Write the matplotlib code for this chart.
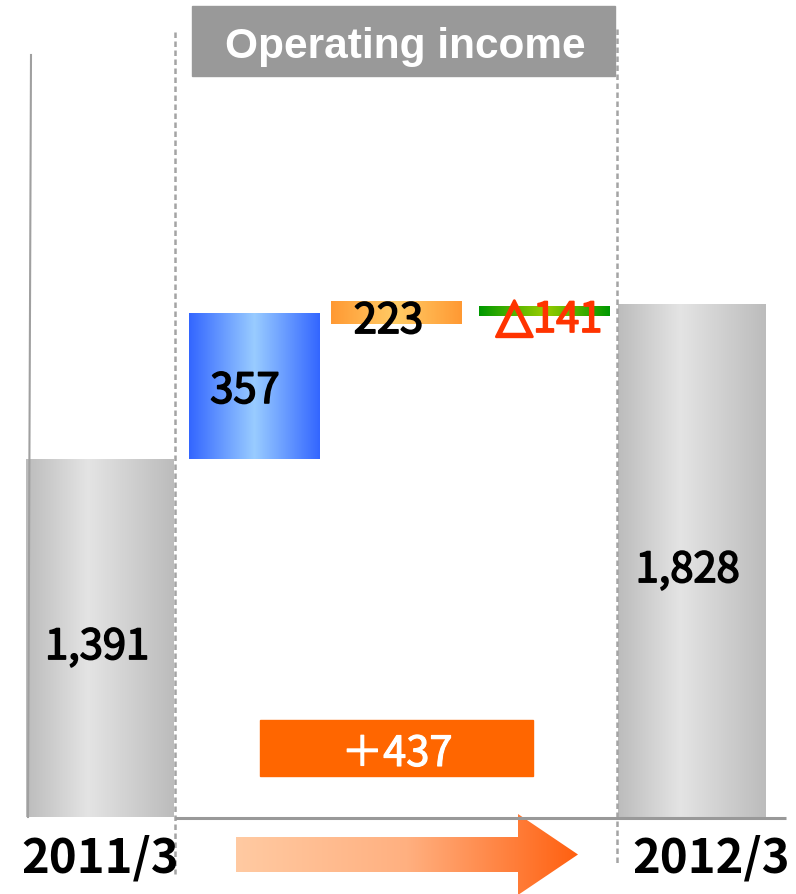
import numpy as np
import matplotlib.pyplot as plt
import matplotlib.patheffects as pe
from matplotlib.patches import Rectangle, Polygon
from matplotlib.colors import LinearSegmentedColormap

# 営業利益 (億円)
periods = ["2011/3", "2012/3"]
start_value = 1391
end_value = 1828
change_labels = ["357", "223", "141"]
total_change = "＋437"
# 中間バーの描画範囲 (図から読み取り, 値単位)
seg_low = [1391, 1772, 1794]
seg_high = [1800, 1836, 1820]

W, H = 796, 895
fig = plt.figure(figsize=(W / 100, H / 100), dpi=100)

# 基準線 (y=818px) より上をデータ軸にする
base_px = 818
scale = 0.35469            # px / 億円
y0 = 381.7                  # 基準線の値
ax = fig.add_axes([0, (H - base_px) / H, 1, base_px / H])
ax.axis("off")


def grad_fill(patch, c_edge, c_mid, mid=0.45):
    x0, y_b = patch.get_x(), patch.get_y()
    w, h = patch.get_width(), patch.get_height()
    y_b2 = max(y_b, y0)
    cmap = LinearSegmentedColormap.from_list(
        "g", [(0, c_edge), (mid, c_mid), (1, c_edge)])
    img = cmap(np.linspace(0, 1, 256))[None, :, :3]
    im = ax.imshow(img, extent=[x0, x0 + w, y_b2, y_b + h], aspect="auto",
                   zorder=patch.get_zorder() + 0.1, interpolation="bilinear")
    im.set_clip_path(patch)
    im.set_clip_box(ax.bbox)


# 期首・期末バー
gray_bars = ax.bar([0, 4], [start_value, end_value], width=1.0,
                   color="#c8c8c8", zorder=2)
for p in gray_bars:
    grad_fill(p, "#bcbcbc", "#e4e4e4", 0.42)

# 増減バー
styles = [("#3366ff", "#99ccff"), ("#ff9933", "#ffcc66"), ("#009900", "#99cc00")]
seg_x = [1.04, 2.0, 3.0]
mid_bars = ax.bar(seg_x, np.array(seg_high) - np.array(seg_low),
                  bottom=seg_low, width=0.88, color="#888888", zorder=2)
for p, (ce, cm) in zip(mid_bars, styles):
    grad_fill(p, ce, cm, 0.5)

ax.set_xlim(-100 / 148, (W - 100) / 148)
ax.set_ylim(y0, y0 + base_px / scale)

num_font = ["Noto Sans CJK JP", "DejaVu Sans"]
thick = [pe.withStroke(linewidth=1.2, foreground="black")]
thick_red = [pe.withStroke(linewidth=1.2, foreground="#ff3300")]
lab = dict(ha="center", va="baseline", fontsize=30, family=num_font, zorder=5)
ax.text(-0.02, 827, f"{start_value:,}", path_effects=thick, **lab)
ax.text(3.97, 1044, f"{end_value:,}", path_effects=thick, **lab)
ax.text(0.98, 1549, change_labels[0], path_effects=thick, **lab)
ax.text(1.95, 1746, change_labels[1], path_effects=thick, **lab)
ax.text(3.16, 1749, change_labels[2], color="#ff3300",
        path_effects=thick_red, **lab)
ax.text(2.80, 1752, "△", ha="center", va="baseline", fontsize=34,
        fontweight="bold", family="DejaVu Sans", color="#ff3300", zorder=5,
        path_effects=[pe.withStroke(linewidth=2.0, foreground="#ff3300")])

# 装飾 (ピクセル座標)
ov = fig.add_axes([0, 0, 1, 1])
ov.set_xlim(0, W)
ov.set_ylim(H, 0)
ov.axis("off")

# タイトル
ov.add_patch(Rectangle((192, 7), 423, 70, color="#999999", zorder=1))
ov.text(405, 58, "Operating income", ha="center", va="baseline", color="white",
        fontsize=30.5, fontweight="bold", family="Liberation Sans", zorder=2)

# 罫線
ov.plot([31, 28], [56, base_px], color="#a0a0a0", lw=1.5, zorder=0)
ov.plot([175, 175], [33, 875], color="#a4a4a4", lw=1.8,
        linestyle=(0, (2.2, 1.4)), zorder=3)
ov.plot([617, 617], [30, 865], color="#a4a4a4", lw=1.8,
        linestyle=(0, (2.2, 1.4)), zorder=3)
ov.plot([175, 786], [base_px + 1, base_px + 1], color="#999999", lw=2.2,
        zorder=3, solid_capstyle="butt")

# 増減合計
ov.add_patch(Rectangle((260, 721), 273, 56, color="#ff6600", zorder=1))
ov.text(397, 767, total_change, ha="center", va="baseline", color="white",
        fontsize=30, family=num_font, zorder=2,
        path_effects=[pe.withStroke(linewidth=0.8, foreground="white")])

# 矢印 (グラデーション)
arrow = Polygon([(236, 838), (518, 838), (518, 815), (578, 855.5),
                 (518, 896), (518, 873), (236, 873)], closed=True,
                facecolor="none", edgecolor="none")
ov.add_patch(arrow)
acmap = LinearSegmentedColormap.from_list(
    "a", [(0, "#ffcaa2"), (0.5, "#ffb080"), (1, "#ff6010")])
aimg = acmap(np.linspace(0, 1, 256))[None, :, :3]
im = ov.imshow(aimg, extent=[236, 578, 896, 815], aspect="auto", zorder=2)
im.set_clip_path(arrow)
ov.set_xlim(0, W)
ov.set_ylim(H, 0)

# 期
ov.text(100, 873, periods[0], ha="center", va="baseline", fontsize=34,
        fontweight="bold", family=num_font, zorder=4)
ov.text(711, 873, periods[1], ha="center", va="baseline", fontsize=34,
        fontweight="bold", family=num_font, zorder=4)

fig.savefig("out.png", dpi=100)
